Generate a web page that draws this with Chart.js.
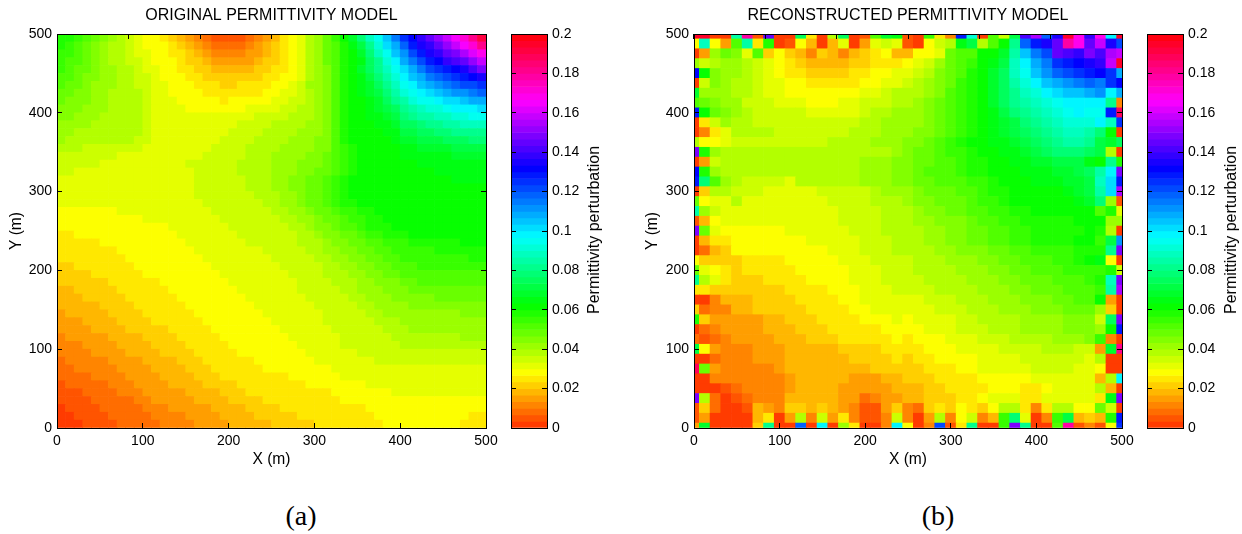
<!DOCTYPE html>
<html>
<head>
<meta charset="utf-8">
<title>Permittivity models</title>
<script src="https://cdn.jsdelivr.net/npm/chart.js@4/dist/chart.umd.min.js"></script>
<style>
  html, body { margin: 0; background: #fff; }
  #page { position: relative; width: 1242px; height: 534px; overflow: hidden; }
  canvas { position: absolute; top: 0; }
  .cb-label, .panel-tag { position: absolute; white-space: nowrap; color: #000; transform: translate(-50%, -50%); }
  .cb-label { font: 16px "Liberation Sans", sans-serif; top: 230px; transform: translate(-50%, -50%) rotate(-90deg); }
  .panel-tag { font: 28px "Liberation Serif", serif; top: 516px; }
</style>
</head>
<body>
<div id="page">
  <canvas id="original" width="516" height="480" style="left:0"></canvas>
  <canvas id="originalBar" width="102" height="480" style="left:505px"></canvas>
  <canvas id="recon" width="546" height="480" style="left:636px"></canvas>
  <canvas id="reconBar" width="102" height="480" style="left:1141px"></canvas>
  <div class="cb-label" style="left:594px">Permittivity perturbation</div>
  <div class="cb-label" style="left:1231px">Permittivity perturbation</div>
  <div class="panel-tag" style="left:301px">(a)</div>
  <div class="panel-tag" style="left:938px">(b)</div>
</div>
<script>
// colorbar bands: 0 = lowest band, 59 = top band, each band is 0.2/60
// rows run from the top of the plot (y=495) to the bottom (y=5), columns x=5..495
const originalBands = [
[17,17,16,15,14,13,12,11,10,9,8,8,7,6,5,4,3,2,1,1,1,1,2,3,4,5,7,8,9,11,12,14,16,18,20,23,26,28,31,34,37,39,41,43,45,47,49,51,54,57],
[17,16,15,14,13,12,11,11,10,9,8,8,8,7,6,5,4,3,2,2,2,2,3,4,5,6,7,8,9,11,12,14,15,17,19,21,24,27,30,32,35,38,40,41,43,45,47,49,51,54],
[16,16,15,14,13,12,11,11,10,9,9,8,8,7,7,6,5,4,3,3,3,3,4,4,5,6,7,8,9,11,12,14,15,17,18,20,23,26,28,31,33,36,38,40,41,43,44,46,48,50],
[16,15,15,14,13,12,11,11,10,10,9,8,8,8,7,6,6,5,4,4,4,4,4,5,6,6,7,8,9,11,12,14,15,17,18,19,22,24,27,29,32,34,36,38,39,41,42,43,45,47],
[16,15,14,14,13,12,12,11,11,10,9,9,8,8,7,7,6,6,5,5,5,5,5,6,6,7,7,8,9,11,12,13,15,17,18,20,22,24,26,28,30,32,34,36,37,38,39,40,42,44],
[15,15,14,13,13,12,12,11,11,10,10,9,8,8,8,7,7,6,6,6,6,6,6,6,7,7,8,8,9,11,12,13,15,17,18,19,21,23,25,27,29,31,32,34,35,36,37,38,39,40],
[15,14,14,13,12,12,12,11,11,10,10,9,9,8,8,8,7,7,7,6,6,7,7,7,7,8,8,9,10,12,12,13,15,17,18,19,20,22,24,26,28,29,31,32,33,34,35,36,36,37],
[14,14,13,13,12,12,11,11,11,11,10,9,9,8,8,8,8,7,7,7,7,7,7,7,8,8,9,9,10,11,12,13,15,17,18,19,20,21,23,25,27,28,29,30,31,32,33,33,34,35],
[14,13,13,13,12,12,11,11,11,11,10,9,9,9,8,8,8,8,8,7,8,8,8,8,8,9,9,10,10,11,12,13,15,17,18,18,19,20,22,24,25,27,28,28,29,30,30,31,32,32],
[13,13,13,12,12,12,11,11,11,11,10,9,9,9,9,8,8,8,8,8,8,8,9,9,9,9,10,10,11,11,12,13,15,17,18,18,19,20,21,22,24,25,26,27,27,28,29,29,29,30],
[13,13,12,12,12,11,11,11,11,11,10,9,9,9,9,9,9,9,9,9,9,9,9,10,10,10,10,11,11,11,12,13,15,17,18,18,19,19,20,21,23,24,25,25,26,26,27,27,28,28],
[12,12,12,12,11,11,11,11,11,11,10,9,9,9,9,9,9,9,9,9,9,10,10,10,10,11,11,11,11,12,12,13,15,17,18,18,18,19,19,20,22,22,23,24,24,25,25,26,26,26],
[12,12,11,11,11,11,11,11,11,11,10,9,9,9,9,9,9,9,9,9,10,10,10,10,11,11,11,11,12,12,12,13,15,17,18,18,18,18,19,19,21,21,22,22,23,23,24,24,24,24],
[12,11,11,11,11,11,11,11,11,10,10,9,9,9,9,9,9,9,9,10,10,10,10,11,11,11,11,12,12,12,13,13,15,17,18,18,18,18,18,19,20,20,21,21,21,22,22,22,23,23],
[11,11,11,10,10,10,10,10,10,10,9,9,9,9,9,9,9,9,10,10,10,10,11,11,11,11,12,12,12,12,13,13,15,16,17,18,18,18,18,18,19,19,20,20,20,20,21,21,21,21],
[10,10,10,10,10,10,10,9,9,9,9,9,9,9,9,9,9,10,10,10,10,10,11,11,11,12,12,12,12,13,13,14,15,16,17,18,18,18,18,18,19,19,19,19,19,19,20,20,20,20],
[10,10,10,10,10,9,9,9,9,9,9,9,9,9,9,10,10,10,10,10,10,11,11,11,11,12,12,12,13,13,13,14,15,16,17,18,18,18,18,18,18,18,19,19,19,19,19,19,19,19],
[10,10,9,9,9,9,9,9,9,9,9,9,9,9,9,9,10,10,10,10,10,11,11,11,11,12,12,12,13,13,14,14,15,16,17,18,18,18,18,18,18,18,18,18,19,19,19,19,19,19],
[9,9,9,9,9,9,9,9,9,9,9,9,9,9,9,9,10,10,10,10,10,10,11,11,11,12,12,13,13,14,14,15,16,17,18,18,18,18,18,18,18,18,18,18,18,18,19,19,19,19],
[9,9,9,9,9,9,9,9,9,9,9,9,9,9,9,9,10,10,10,10,10,10,11,11,11,12,12,13,13,14,14,15,16,17,18,18,18,18,18,18,18,18,18,18,18,18,18,18,18,18],
[9,9,9,9,9,9,9,9,9,9,9,9,9,9,9,9,10,10,10,10,10,10,10,11,11,11,12,12,13,14,14,15,16,17,18,18,18,18,18,18,18,18,18,18,18,18,18,18,18,18],
[9,9,9,9,9,9,9,9,9,9,9,9,9,9,9,9,9,10,10,10,10,10,10,10,11,11,12,12,13,14,14,15,16,17,17,18,18,18,18,18,18,18,18,18,18,18,18,18,18,18],
[8,8,8,8,8,8,8,9,9,9,9,9,9,9,9,9,9,9,10,10,10,10,10,10,10,11,11,12,12,13,14,14,15,16,16,17,17,18,18,18,18,18,18,18,18,18,18,18,18,18],
[8,8,8,8,8,8,8,8,8,8,9,9,9,9,9,9,9,9,9,10,10,10,10,10,10,10,11,11,12,12,13,14,14,15,16,16,17,17,18,18,18,18,18,18,18,18,18,18,18,18],
[8,8,8,8,8,8,8,8,8,8,8,8,8,9,9,9,9,9,9,9,10,10,10,10,10,10,10,11,11,12,13,13,14,15,15,16,17,17,17,18,18,18,18,18,18,18,18,18,18,18],
[7,7,8,8,8,8,8,8,8,8,8,8,8,8,9,9,9,9,9,9,9,10,10,10,10,10,10,10,11,11,12,13,13,14,14,15,16,16,17,17,17,18,18,18,18,18,18,18,18,18],
[7,7,7,7,7,8,8,8,8,8,8,8,8,8,8,9,9,9,9,9,9,9,10,10,10,10,10,10,11,11,11,12,13,13,14,14,15,15,16,16,16,17,17,17,17,17,17,18,18,18],
[7,7,7,7,7,7,7,8,8,8,8,8,8,8,8,8,9,9,9,9,9,9,9,9,10,10,10,10,10,11,11,12,12,13,13,14,14,15,15,16,16,16,16,16,17,17,17,17,17,17],
[7,7,7,7,7,7,7,7,8,8,8,8,8,8,8,8,8,9,9,9,9,9,9,9,9,10,10,10,10,10,11,11,12,12,13,13,14,14,15,15,16,16,16,16,16,16,16,16,17,17],
[6,6,7,7,7,7,7,7,7,8,8,8,8,8,8,8,8,8,9,9,9,9,9,9,9,9,10,10,10,10,10,11,11,12,12,13,13,14,14,15,15,15,16,16,16,16,16,16,16,16],
[6,6,6,6,7,7,7,7,7,7,8,8,8,8,8,8,8,8,8,9,9,9,9,9,9,9,9,10,10,10,10,11,11,11,12,12,13,13,14,14,15,15,15,15,15,15,15,15,15,15],
[6,6,6,6,6,6,7,7,7,7,7,7,8,8,8,8,8,8,8,8,9,9,9,9,9,9,9,9,10,10,10,10,11,11,11,12,12,13,13,13,14,14,15,15,15,15,15,15,15,15],
[5,5,6,6,6,6,6,7,7,7,7,7,7,8,8,8,8,8,8,8,8,9,9,9,9,9,9,9,10,10,10,10,10,11,11,12,12,12,13,13,13,14,14,14,14,14,14,14,14,14],
[5,5,5,6,6,6,6,6,7,7,7,7,7,7,8,8,8,8,8,8,8,8,9,9,9,9,9,9,9,10,10,10,10,10,11,11,12,12,12,13,13,13,13,13,14,14,14,14,14,14],
[5,5,5,5,5,6,6,6,6,7,7,7,7,7,7,8,8,8,8,8,8,8,8,9,9,9,9,9,9,9,10,10,10,10,10,11,11,12,12,12,12,13,13,13,13,13,13,13,13,13],
[4,5,5,5,5,5,6,6,6,6,7,7,7,7,7,7,8,8,8,8,8,8,8,8,9,9,9,9,9,9,9,10,10,10,10,10,11,11,12,12,12,12,12,12,12,12,12,13,13,13],
[4,4,4,5,5,5,5,6,6,6,6,7,7,7,7,7,7,8,8,8,8,8,8,8,8,9,9,9,9,9,9,10,10,10,10,10,10,11,11,11,12,12,12,12,12,12,12,12,12,12],
[4,4,4,4,5,5,5,5,6,6,6,6,6,7,7,7,7,7,8,8,8,8,8,8,8,8,9,9,9,9,9,9,10,10,10,10,10,10,11,11,11,12,12,12,12,12,12,12,12,12],
[3,4,4,4,4,4,5,5,5,5,6,6,6,6,7,7,7,7,7,8,8,8,8,8,8,8,8,9,9,9,9,9,9,10,10,10,10,10,10,11,11,11,11,11,11,11,11,12,12,12],
[3,3,3,4,4,4,4,5,5,5,5,6,6,6,6,7,7,7,7,7,8,8,8,8,8,8,8,8,9,9,9,9,9,10,10,10,10,10,10,10,11,11,11,11,11,11,11,11,11,11],
[3,3,3,3,4,4,4,4,5,5,5,5,6,6,6,6,7,7,7,7,7,8,8,8,8,8,8,8,8,9,9,9,9,9,9,10,10,10,10,10,10,10,10,10,10,10,10,10,10,10],
[2,3,3,3,3,3,4,4,4,4,5,5,5,5,6,6,6,7,7,7,7,7,7,8,8,8,8,8,8,8,9,9,9,9,9,9,9,10,10,10,10,10,10,10,10,10,10,10,10,10],
[2,2,3,3,3,3,3,4,4,4,4,5,5,5,5,6,6,6,7,7,7,7,7,7,8,8,8,8,8,8,8,8,9,9,9,9,9,9,9,9,9,9,9,9,9,9,9,9,9,9],
[2,2,2,2,3,3,3,3,4,4,4,4,5,5,5,5,6,6,6,7,7,7,7,7,7,7,7,8,8,8,8,8,8,9,9,9,9,9,9,9,9,9,9,9,9,9,9,9,9,9],
[1,2,2,2,2,2,3,3,3,4,4,4,4,5,5,5,5,6,6,6,6,7,7,7,7,7,7,7,7,8,8,8,8,8,8,8,9,9,9,9,9,9,9,9,9,9,9,9,9,9],
[1,1,1,2,2,2,2,3,3,3,4,4,4,4,4,5,5,5,5,6,6,6,7,7,7,7,7,7,7,7,7,7,8,8,8,8,8,8,8,9,9,9,9,9,9,9,9,9,9,9],
[1,1,1,1,2,2,2,2,2,3,3,4,4,4,4,4,5,5,5,5,6,6,6,6,7,7,7,7,7,7,7,7,7,8,8,8,8,8,8,8,8,8,8,8,8,8,8,8,8,8],
[0,1,1,1,1,2,2,2,2,2,3,3,3,4,4,4,4,4,5,5,5,5,6,6,6,6,7,7,7,7,7,7,7,7,7,7,8,8,8,8,8,8,8,8,8,8,8,8,8,8],
[0,0,1,1,1,1,2,2,2,2,2,3,3,3,3,4,4,4,4,5,5,5,5,6,6,6,6,6,7,7,7,7,7,7,7,7,7,8,8,8,8,8,8,8,8,8,8,8,7,7],
[0,0,0,1,1,1,1,2,2,2,2,2,3,3,3,3,4,4,4,4,5,5,5,5,5,6,6,6,6,6,7,7,7,7,7,7,7,7,8,8,8,8,8,8,8,8,8,7,7,7]
];

// reconstruction: nodes every 12.5 m, rows y=500..0, columns x=0..500
const reconBands = [
[58,58,0,0,25,53,1,43,0,0,22,7,0,11,22,0,1,15,20,19,1,0,16,7,3,38,27,0,15,10,21,42,46,35,40,58,50,41,50,29,58],
[8,26,8,4,15,25,7,17,0,1,8,5,0,5,9,0,4,9,10,9,1,0,8,10,11,19,21,11,15,18,24,35,38,40,43,53,50,43,47,40,36],
[0,4,12,14,13,9,15,6,8,6,5,3,6,5,3,5,6,7,8,5,5,8,8,9,14,15,15,18,18,20,25,31,34,36,43,42,41,44,42,46,47],
[12,10,11,12,12,11,10,9,8,7,6,5,5,5,5,6,6,7,7,7,8,9,10,12,14,15,16,18,19,21,26,29,32,34,37,38,39,40,41,47,58],
[39,18,13,12,12,11,10,9,8,7,7,6,6,6,6,7,7,8,8,9,9,10,11,13,14,15,17,18,20,22,26,28,31,33,35,36,37,38,39,37,32],
[0,10,13,12,11,11,10,9,9,8,8,7,7,7,7,7,8,8,9,9,10,11,12,13,14,16,17,18,20,22,25,27,29,31,32,33,34,35,34,37,39],
[20,12,12,12,11,11,10,9,9,8,8,8,8,8,8,8,9,9,10,11,11,11,12,13,15,16,17,18,20,22,24,26,27,29,30,31,31,32,33,29,32],
[15,14,13,12,12,10,10,10,9,9,9,8,8,8,9,9,10,10,10,11,11,12,13,14,15,16,17,18,20,22,24,25,26,27,28,29,29,29,29,24,3],
[38,18,14,13,12,11,10,10,10,10,10,9,9,9,9,9,10,11,11,12,12,12,13,14,15,16,17,18,19,21,23,24,25,26,27,28,29,28,28,38,56],
[0,7,10,12,11,11,10,10,10,10,10,10,10,10,10,10,11,11,12,12,12,12,13,14,15,16,17,18,19,20,21,23,24,25,26,27,27,27,29,26,37],
[0,3,7,9,11,11,11,11,10,10,10,10,10,10,10,11,11,11,12,12,12,13,13,14,15,16,17,18,19,20,21,22,23,24,25,26,26,25,23,18,0],
[11,8,8,9,10,10,10,10,10,10,10,10,10,11,11,11,11,12,12,12,13,13,14,15,16,17,18,18,19,19,20,21,22,23,24,25,25,24,21,20,22],
[44,17,12,11,11,11,11,11,11,11,11,11,11,11,11,11,11,11,11,12,13,14,14,15,16,16,17,18,18,19,19,20,21,22,23,23,23,22,21,11,0],
[0,4,10,11,11,11,11,11,11,11,11,11,11,11,11,11,12,12,12,13,13,14,14,15,15,16,17,17,18,18,19,19,20,20,21,21,21,19,18,24,17],
[39,17,12,11,11,11,11,11,11,11,11,11,11,11,11,11,12,12,12,13,13,14,15,15,15,16,17,17,18,18,18,19,19,19,20,20,21,22,25,29,44],
[38,23,15,12,11,10,10,10,10,9,11,11,11,11,11,11,12,12,12,13,13,14,14,15,15,15,16,16,17,18,18,18,19,19,19,20,20,21,26,30,38],
[0,6,11,11,10,10,10,9,9,9,9,9,10,10,10,10,10,11,12,12,12,13,14,14,14,15,15,16,17,17,18,18,18,18,18,19,20,21,25,30,46],
[14,8,9,9,11,9,9,9,9,9,9,9,9,10,10,10,10,11,11,11,12,13,13,14,14,14,15,16,16,17,18,18,18,18,18,18,19,20,23,12,1],
[25,12,10,9,9,9,9,9,9,9,9,9,9,9,10,10,10,10,11,11,11,12,13,13,14,14,15,15,16,16,17,17,18,18,18,18,18,18,15,17,9],
[1,5,8,9,9,9,9,9,9,9,9,9,9,9,10,10,10,10,11,11,11,12,12,13,13,13,14,15,15,16,16,17,17,17,17,17,18,18,18,12,12],
[44,14,9,8,8,8,8,8,8,9,9,9,9,9,9,10,10,10,11,11,11,11,12,12,13,13,14,14,15,15,16,16,17,17,17,17,17,18,17,11,0],
[0,5,7,7,8,8,8,8,8,8,8,9,9,9,9,9,10,10,10,11,11,11,12,12,13,13,14,14,15,15,16,16,17,17,17,17,18,18,16,21,33],
[0,2,5,6,8,8,8,8,8,8,8,8,8,9,9,9,10,10,10,11,11,11,11,12,12,13,13,13,14,14,15,15,16,16,16,16,17,17,17,24,44],
[8,6,6,6,6,7,7,7,7,8,8,8,8,8,9,9,9,10,10,10,10,11,11,11,12,12,12,13,13,14,14,15,15,15,16,16,17,18,19,8,0],
[14,9,8,7,6,7,7,7,7,7,8,8,8,8,8,9,9,9,10,10,10,11,11,11,11,12,12,12,13,13,14,14,15,15,15,16,16,16,16,17,10],
[24,11,9,7,6,6,6,7,7,7,7,8,8,8,8,9,9,9,10,10,10,10,11,11,11,11,12,12,12,13,13,14,14,14,15,15,15,16,17,26,44],
[7,7,6,6,6,6,6,6,6,7,7,7,7,8,8,8,9,9,9,10,10,10,10,11,11,11,11,12,12,12,13,13,14,14,14,15,15,15,16,25,46],
[0,0,3,5,5,5,6,6,6,6,7,7,7,7,8,8,9,9,9,9,9,9,10,10,10,11,11,11,12,12,12,13,13,13,14,14,15,15,18,4,0],
[6,2,3,3,5,5,6,6,6,6,6,7,7,7,7,8,8,9,9,9,9,9,9,10,10,10,11,11,11,12,12,12,13,13,13,14,14,14,12,6,0],
[17,6,4,4,4,4,4,5,5,6,6,6,7,7,7,7,8,8,8,9,8,9,9,9,9,10,10,11,11,11,11,12,12,12,12,13,13,13,10,22,44],
[0,2,3,4,4,4,4,5,5,5,6,6,6,7,7,7,7,7,8,8,8,8,9,9,9,10,10,10,11,11,11,12,12,12,12,13,13,13,12,18,38],
[2,1,2,3,4,4,4,4,5,5,5,6,6,6,7,7,7,7,7,8,7,8,8,8,9,9,9,10,10,10,11,11,11,11,12,12,12,13,16,3,0],
[21,8,4,3,3,3,4,4,4,5,5,5,5,5,6,6,6,6,7,7,7,7,8,8,8,9,9,9,9,10,10,10,10,11,11,11,10,10,4,20,54],
[0,0,2,3,3,3,4,4,4,5,5,5,5,5,5,6,6,6,6,7,6,7,7,8,8,8,8,9,9,9,9,10,10,10,10,10,10,9,11,0,0],
[56,14,4,3,3,3,3,3,4,5,5,5,5,5,5,5,5,6,6,6,6,6,7,7,7,8,8,9,9,9,9,9,10,10,10,10,9,9,8,0,0],
[0,0,3,3,3,3,3,3,3,4,5,5,5,5,5,4,4,4,5,5,6,6,6,7,7,7,7,8,8,8,8,8,9,9,9,9,9,9,5,11,29],
[0,0,0,1,2,3,3,3,3,4,5,5,5,5,4,4,4,4,4,5,5,5,6,6,7,7,7,7,8,8,8,7,7,8,9,9,9,9,11,5,0],
[44,11,2,0,1,2,3,3,3,5,5,5,5,5,4,4,2,3,4,4,5,5,6,6,6,7,7,8,9,9,9,7,7,9,9,9,9,9,7,19,44],
[1,6,2,0,0,1,5,4,3,6,6,5,6,5,4,3,1,1,4,6,3,2,6,7,6,8,7,6,8,11,11,7,3,7,11,11,8,8,14,10,0],
[1,4,0,0,0,0,5,7,0,4,11,3,10,4,7,3,1,1,3,10,3,0,4,11,3,8,10,3,5,16,23,9,0,3,16,21,5,6,5,17,38],
[4,20,0,0,0,0,6,24,0,0,35,0,29,0,12,7,0,0,3,29,8,0,3,36,1,7,24,0,0,16,44,24,0,0,15,53,1,3,1,8,37]
];

const colorbarTickStep = 0.02;
const bandCount = 60;

Chart.defaults.font.family = '"Liberation Sans", sans-serif';
Chart.defaults.color = "#000";
Chart.defaults.animation = false;

function bandColor(band) {
  return `hsl(${14 + 5.8 * band}, 100%, 50%)`;
}

function makeCells(rows, x0, y0, step) {
  const half = step / 2;
  const cells = [];
  rows.forEach((row, r) => {
    const y = y0 - r * step;
    row.forEach((band, c) => {
      cells.push({
        x: x0 + c * step,
        y: [Math.max(0, y - half), Math.min(500, y + half)],
        band: band,
      });
    });
  });
  return cells;
}

function tickGrid() {
  return { drawOnChartArea: false, tickLength: -5, tickColor: "#000", tickWidth: 1, z: 1 };
}
const frame = { display: true, color: "#000", width: 1, z: 1 };

function showPanel(id, titleText, cells, yAxisWidth, rightPad) {
  new Chart(document.getElementById(id), {
    type: "bar",
    data: {
      datasets: [
        {
          data: cells,
          backgroundColor: cells.map((cell) => bandColor(cell.band)),
          borderWidth: 0,
          barPercentage: 1,
          categoryPercentage: 1,
          clip: 0,
        },
      ],
    },
    options: {
      responsive: false,
      layout: { padding: { right: rightPad } },
      plugins: {
        legend: { display: false },
        tooltip: { enabled: false },
        title: {
          display: true,
          fullSize: false,
          text: titleText,
          font: { size: 16, weight: "normal", lineHeight: 1.2 },
          padding: { top: 6, bottom: 8.8 },
        },
      },
      scales: {
        x: {
          type: "linear",
          offset: false,
          min: 0,
          max: 500,
          grid: { ...tickGrid(), offset: false },
          border: frame,
          ticks: { stepSize: 100, padding: 10, maxRotation: 0, font: { size: 14 } },
          title: { display: true, text: "X (m)", font: { size: 15.6 }, padding: { top: 0, bottom: 11 } },
          afterFit: (scale) => { scale.height = 52; },
        },
        x2: {
          type: "linear",
          position: "top",
          min: 0,
          max: 500,
          grid: tickGrid(),
          border: frame,
          ticks: { stepSize: 100, display: false },
          afterFit: (scale) => { scale.height = 0; },
        },
        y: {
          min: 0,
          max: 500,
          grid: tickGrid(),
          border: frame,
          ticks: { stepSize: 100, padding: 10, font: { size: 14 } },
          title: { display: true, text: "Y (m)", font: { size: 15.6 }, padding: { top: 7, bottom: 0 } },
          afterFit: (scale) => { scale.width = yAxisWidth; },
        },
        y2: {
          position: "right",
          min: 0,
          max: 500,
          grid: tickGrid(),
          border: frame,
          ticks: { stepSize: 100, display: false },
          afterFit: (scale) => { scale.width = 0; },
        },
      },
    },
  });
}

function showColorbar(id) {
  const bands = Array.from({ length: bandCount }, (_, i) => i);
  new Chart(document.getElementById(id), {
    type: "bar",
    data: {
      datasets: [
        {
          data: bands.map((i) => ({ x: 0.5, y: [(i * 0.2) / bandCount, ((i + 1) * 0.2) / bandCount] })),
          backgroundColor: bands.map(bandColor),
          borderWidth: 0,
          barPercentage: 1,
          categoryPercentage: 1,
          clip: 0,
        },
      ],
    },
    options: {
      responsive: false,
      layout: { padding: { left: 6, top: 34, bottom: 52 } },
      plugins: { legend: { display: false }, tooltip: { enabled: false }, title: { display: false } },
      scales: {
        x: {
          type: "linear",
          offset: false,
          min: 0,
          max: 1,
          grid: { display: false, offset: false },
          border: frame,
          ticks: { display: false },
          afterFit: (scale) => { scale.height = 0; },
        },
        x2: {
          type: "linear",
          position: "top",
          min: 0,
          max: 1,
          grid: { display: false },
          border: frame,
          ticks: { display: false },
          afterFit: (scale) => { scale.height = 0; },
        },
        y: {
          position: "right",
          min: 0,
          max: 0.2,
          grid: tickGrid(),
          border: frame,
          ticks: {
            stepSize: colorbarTickStep,
            padding: 10,
            font: { size: 14 },
            callback: (value) => String(+value.toFixed(2)),
          },
          afterFit: (scale) => { scale.width = 60; },
        },
        y2: {
          position: "left",
          min: 0,
          max: 0.2,
          grid: tickGrid(),
          border: frame,
          ticks: { stepSize: colorbarTickStep, display: false },
          afterFit: (scale) => { scale.width = 0; },
        },
      },
    },
  });
}

showPanel("original", "ORIGINAL PERMITTIVITY MODEL", makeCells(originalBands, 5, 495, 10), 57, 30);
showColorbar("originalBar");
showPanel("recon", "RECONSTRUCTED PERMITTIVITY MODEL", makeCells(reconBands, 0, 500, 12.5), 58, 60);
showColorbar("reconBar");
</script>
</body>
</html>
